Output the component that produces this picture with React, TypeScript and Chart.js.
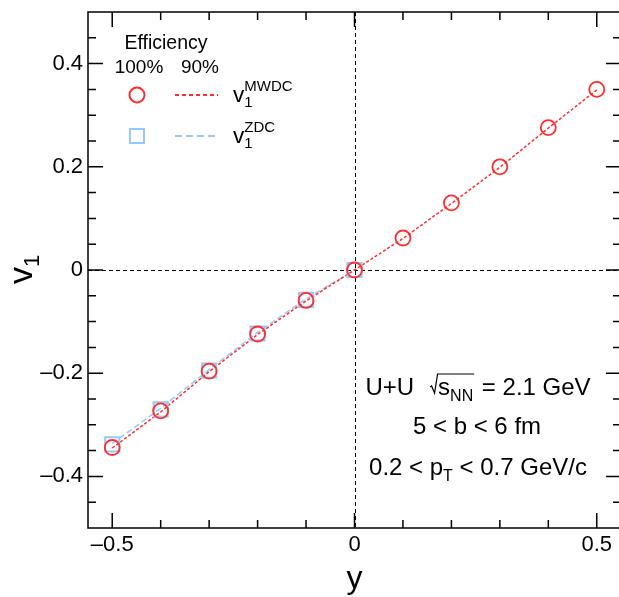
import React, { useEffect, useRef } from "react";
import { Chart, registerables } from "chart.js";
Chart.register(...registerables);

// ---- data ----
const rapidity = [-0.5, -0.4, -0.3, -0.2, -0.1, 0, 0.1, 0.2, 0.3, 0.4, 0.5];
const v1MwdcEff100 = [-0.344, -0.273, -0.196, -0.124, -0.059, 0.0, 0.062, 0.13, 0.2, 0.276, 0.35];
const v1MwdcEff90 = [-0.345, -0.275, -0.197, -0.125, -0.06, 0.0, 0.061, 0.129, 0.199, 0.275, 0.349];
const rapidityZdc = [-0.5, -0.4, -0.3, -0.2, -0.1, 0];
const v1ZdcEff100 = [-0.338, -0.27, -0.195, -0.123, -0.058, 0.0];
const v1ZdcEff90 = [-0.336, -0.268, -0.193, -0.121, -0.056, 0.0];

const xTickValues = [-0.5, 0, 0.5];
const xTickLabels = ["\u20130.5", "0", "0.5"];
const yTickValues = [-0.4, -0.2, 0, 0.2, 0.4];
const yTickLabels = ["\u20130.4", "\u20130.2", "0", "0.2", "0.4"];

const FONT = "'Liberation Sans', Arial, Helvetica, sans-serif";
const RED = "rgb(255,45,45)";
const BLUE = "rgb(150,200,250)";

const toXY = (xs: number[], ys: number[]) => xs.map((x, i) => ({ x, y: ys[i] }));

const decorPlugin = {
  id: "decor",
  beforeDatasetsDraw(chart: any) {
    const { ctx, chartArea: a, scales } = chart;
    const x0 = scales.x.getPixelForValue(0);
    const y0 = scales.y.getPixelForValue(0);
    ctx.save();
    ctx.strokeStyle = "#000";
    ctx.lineWidth = 1;
    ctx.setLineDash([4, 3]);
    ctx.beginPath();
    ctx.moveTo(Math.round(x0) + 0.5, a.top);
    ctx.lineTo(Math.round(x0) + 0.5, a.bottom);
    ctx.moveTo(a.left, Math.round(y0) + 0.5);
    ctx.lineTo(a.right, Math.round(y0) + 0.5);
    ctx.stroke();
    ctx.restore();
  },
  afterDatasetsDraw(chart: any) {
    const { ctx, chartArea: a, scales } = chart;
    ctx.save();
    ctx.strokeStyle = "#000";
    ctx.lineWidth = 1.5;
    ctx.setLineDash([]);
    ctx.strokeRect(a.left, a.top, a.right - a.left, a.bottom - a.top);
    ctx.beginPath();
    // x ticks every 0.1
    for (let i = -5; i <= 5; i++) {
      const v = i / 10;
      const px = scales.x.getPixelForValue(v);
      const len = i % 5 === 0 ? 15 : 8;
      ctx.moveTo(px, a.bottom);
      ctx.lineTo(px, a.bottom - len);
      ctx.moveTo(px, a.top);
      ctx.lineTo(px, a.top + len);
    }
    // y ticks every 0.05
    for (let i = -9; i <= 9; i++) {
      const v = i / 20;
      const py = scales.y.getPixelForValue(v);
      const len = i % 4 === 0 ? 15 : 8;
      ctx.moveTo(a.left, py);
      ctx.lineTo(a.left + len, py);
      ctx.moveTo(a.right, py);
      ctx.lineTo(a.right - len, py);
    }
    ctx.stroke();
    ctx.restore();
  },
  afterDraw(chart: any) {
    const { ctx, scales } = chart;
    ctx.save();
    ctx.fillStyle = "#000";
    ctx.textBaseline = "alphabetic";

    // axis titles
    ctx.font = `32px ${FONT}`;
    ctx.textAlign = "center";
    ctx.fillText("y", scales.x.getPixelForValue(0), 588);

    ctx.save();
    ctx.translate(32, 284);
    ctx.rotate(-Math.PI / 2);
    ctx.textAlign = "left";
    ctx.font = `34px ${FONT}`;
    ctx.fillText("v", 0, 0);
    const vw = ctx.measureText("v").width;
    ctx.font = `22px ${FONT}`;
    ctx.fillText("1", vw, 7);
    ctx.restore();

    // legend
    ctx.textAlign = "center";
    ctx.font = `19.5px ${FONT}`;
    ctx.fillText("Efficiency", 166, 49);
    ctx.font = `19px ${FONT}`;
    ctx.fillText("100%", 139, 73);
    ctx.fillText("90%", 200, 73);

    const rows = [
      { y: 95, label: "MWDC", kind: "circle" },
      { y: 136, label: "ZDC", kind: "rect" },
    ];
    for (const r of rows) {
      ctx.save();
      ctx.lineWidth = 2;
      if (r.kind === "circle") {
        ctx.strokeStyle = RED;
        ctx.beginPath();
        ctx.arc(137, r.y, 7.5, 0, Math.PI * 2);
        ctx.stroke();
        ctx.setLineDash([4, 3]);
      } else {
        ctx.strokeStyle = BLUE;
        ctx.strokeRect(137 - 7, r.y - 7, 14, 14);
        ctx.setLineDash([7, 4]);
      }
      ctx.beginPath();
      ctx.moveTo(175, r.y);
      ctx.lineTo(218, r.y);
      ctx.stroke();
      ctx.restore();
      ctx.textAlign = "left";
      ctx.font = `22.5px ${FONT}`;
      ctx.fillText("v", 233, r.y + 7);
      const w = ctx.measureText("v").width;
      ctx.font = `15px ${FONT}`;
      ctx.fillText("1", 233 + w, r.y + 12);
      ctx.fillText(r.label, 233 + w, r.y - 4.5);
    }

    // annotation
    const cx = 478;
    const big = `24px ${FONT}`;
    const small = `16px ${FONT}`;
    // line 1
    ctx.font = big;
    const wUU = ctx.measureText("U+U").width;
    const wS = ctx.measureText("s").width;
    const wRest = ctx.measureText(" = 2.1 GeV").width;
    ctx.font = small;
    const wNN = ctx.measureText("NN").width;
    const gap = 16;
    const rad = 8;
    const total1 = wUU + gap + rad + wS + wNN + 2 + wRest;
    let x = cx - total1 / 2;
    const b1 = 395;
    ctx.textAlign = "left";
    ctx.font = big;
    ctx.fillText("U+U", x, b1);
    x += wUU + gap;
    // radical sign
    ctx.save();
    ctx.strokeStyle = "#000";
    ctx.lineWidth = 1.2;
    ctx.beginPath();
    ctx.moveTo(x, b1 - 8);
    ctx.lineTo(x + 1.5, b1 - 9);
    ctx.lineTo(x + 4.5, b1 - 2);
    ctx.lineTo(x + rad - 0.5, b1 - 21);
    ctx.lineTo(x + rad + wS + wNN + 1, b1 - 21);
    ctx.stroke();
    ctx.restore();
    x += rad;
    ctx.fillText("s", x, b1);
    x += wS;
    ctx.font = small;
    ctx.fillText("NN", x, b1 + 6);
    x += wNN + 2;
    ctx.font = big;
    ctx.fillText(" = 2.1 GeV", x, b1);

    // line 2
    ctx.textAlign = "center";
    ctx.fillText("5 < b < 6 fm", cx - 1, 434);

    // line 3
    ctx.textAlign = "left";
    const b3 = 475;
    const p1 = "0.2 < p";
    const p3 = " < 0.7 GeV/c";
    ctx.font = big;
    const w1 = ctx.measureText(p1).width;
    const w3 = ctx.measureText(p3).width;
    ctx.font = small;
    const wT = ctx.measureText("T").width;
    let x3 = cx - (w1 + wT + w3) / 2;
    ctx.font = big;
    ctx.fillText(p1, x3, b3);
    x3 += w1;
    ctx.font = small;
    ctx.fillText("T", x3, b3 + 6);
    x3 += wT;
    ctx.font = big;
    ctx.fillText(p3, x3, b3);

    ctx.restore();
  },
};

export default function App() {
  const ref = useRef<HTMLCanvasElement | null>(null);
  useEffect(() => {
    if (!ref.current) return;
    const chart = new Chart(ref.current, {
      type: "scatter",
      data: {
        datasets: [
          {
            label: "MWDC 100%",
            data: toXY(rapidity, v1MwdcEff100),
            pointStyle: "circle",
            pointRadius: 7.5,
            borderWidth: 1.8,
            borderColor: RED,
            backgroundColor: "rgba(0,0,0,0)",
            showLine: false,
          },
          {
            label: "ZDC 100%",
            data: toXY(rapidityZdc, v1ZdcEff100),
            pointStyle: "rect",
            pointRadius: 10,
            borderWidth: 2,
            borderColor: BLUE,
            backgroundColor: "rgba(0,0,0,0)",
            showLine: false,
          },
          {
            label: "MWDC 90%",
            data: toXY(rapidity, v1MwdcEff90),
            showLine: true,
            pointRadius: 0,
            borderWidth: 1.5,
            borderColor: RED,
            borderDash: [3, 2],
            fill: false,
          },
          {
            label: "ZDC 90%",
            data: toXY(rapidityZdc, v1ZdcEff90),
            showLine: true,
            pointRadius: 0,
            borderWidth: 1.5,
            borderColor: BLUE,
            borderDash: [6, 3],
            fill: false,
          },
        ],
      },
      options: {
        animation: false,
        responsive: false,
        maintainAspectRatio: false,
        layout: { padding: { top: 12, right: 19, left: 0, bottom: 0 } },
        plugins: { legend: { display: false }, tooltip: { enabled: false } },
        scales: {
          x: {
            type: "linear",
            min: -0.55,
            max: 0.55,
            grid: { display: false, drawTicks: false },
            border: { display: false },
            afterFit: (s: any) => {
              s.height = 69;
              s.paddingLeft = 0;
              s.paddingRight = 0;
              s.paddingTop = 0;
              s.paddingBottom = 0;
            },
            afterBuildTicks: (s: any) => {
              s.ticks = xTickValues.map((v) => ({ value: v }));
            },
            ticks: {
              font: { family: FONT, size: 22 },
              color: "#000",
              padding: 4,
              maxRotation: 0,
              autoSkip: false,
              callback: (_v: any, i: number) => xTickLabels[i],
            },
          },
          y: {
            type: "linear",
            min: -0.5,
            max: 0.5,
            grid: { display: false, drawTicks: false },
            border: { display: false },
            afterFit: (s: any) => {
              s.width = 88;
              s.paddingLeft = 0;
              s.paddingRight = 0;
              s.paddingTop = 0;
              s.paddingBottom = 0;
            },
            afterBuildTicks: (s: any) => {
              s.ticks = yTickValues.map((v) => ({ value: v }));
            },
            ticks: {
              font: { family: FONT, size: 22 },
              color: "#000",
              padding: 5,
              autoSkip: false,
              callback: (_v: any, i: number) => yTickLabels[i],
            },
          },
        },
      },
      plugins: [decorPlugin],
    });
    return () => chart.destroy();
  }, []);

  return (
    <div
      style={{
        position: "fixed",
        left: 0,
        top: 0,
        width: 619,
        height: 597,
        overflow: "hidden",
        background: "#fff",
      }}
    >
      <canvas ref={ref} width={640} height={597} style={{ display: "block" }} />
    </div>
  );
}
